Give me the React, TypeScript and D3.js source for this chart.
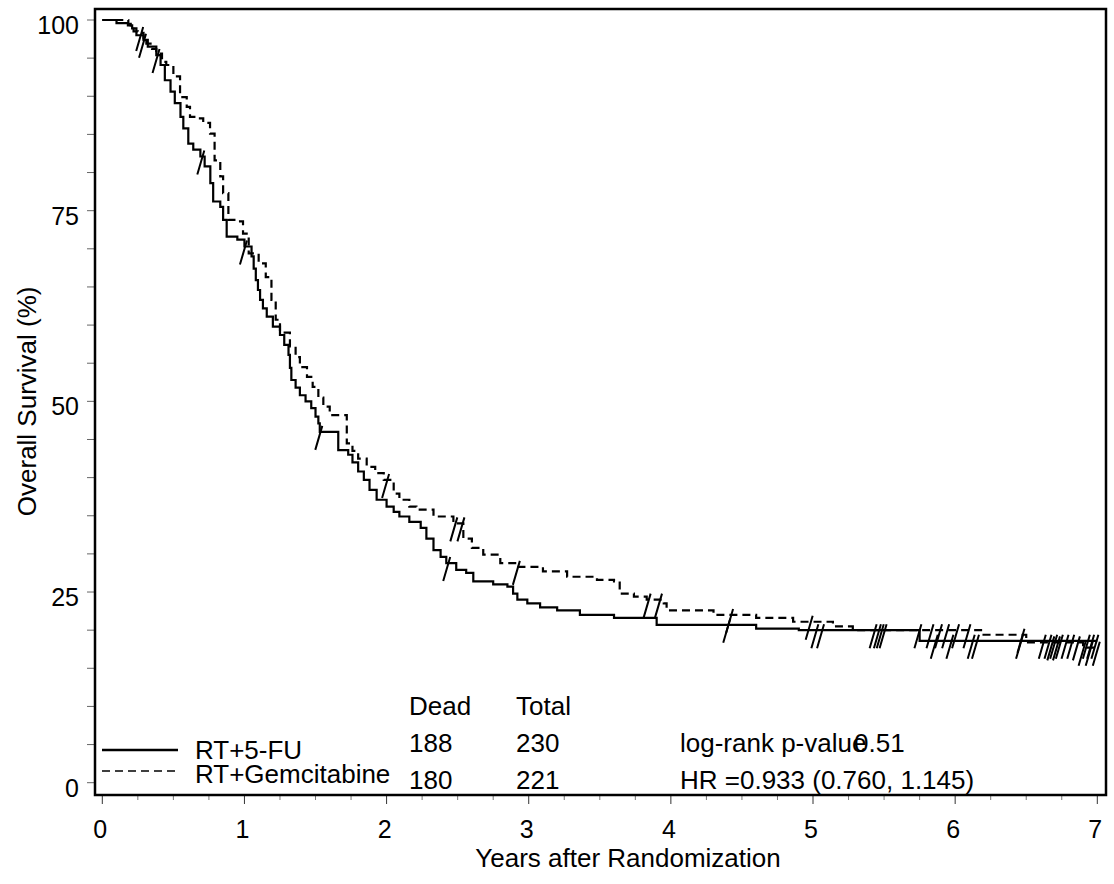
import React from "react";
import * as d3 from "d3";

// Kaplan-Meier steps: [years, survival %]
const fuSteps: [number, number][] = [
  [0, 100], [0.10, 99.6], [0.18, 99.3], [0.21, 98.9], [0.24, 98.0], [0.29, 97.4], [0.32, 96.5],
  [0.38, 95.4], [0.41, 94.1], [0.44, 92.1], [0.48, 90.6], [0.51, 89.1], [0.55, 87.3], [0.57, 85.8],
  [0.605, 83.8], [0.64, 83.0], [0.69, 82.1], [0.72, 80.8], [0.76, 78.6], [0.78, 76.2], [0.83, 75.5],
  [0.85, 73.8], [0.875, 71.6], [0.95, 71.2], [1.0, 70.3], [1.05, 69.0], [1.065, 67.4], [1.08, 65.9],
  [1.095, 64.6], [1.11, 63.3], [1.13, 62.2], [1.157, 61.1], [1.20, 59.8], [1.25, 58.7], [1.28, 57.4],
  [1.31, 56.1], [1.32, 54.4], [1.33, 52.8], [1.36, 51.8], [1.39, 50.8], [1.43, 50.0], [1.47, 49.1],
  [1.50, 48.0], [1.52, 47.1], [1.53, 46.0], [1.66, 43.6], [1.73, 43.0], [1.76, 42.0], [1.80, 40.8],
  [1.84, 39.7], [1.88, 38.4], [1.93, 37.1], [2.0, 36.2], [2.05, 35.5], [2.09, 34.9], [2.16, 34.2],
  [2.24, 33.4], [2.28, 32.0], [2.33, 30.5], [2.38, 29.6], [2.42, 28.8], [2.49, 27.9], [2.56, 27.5],
  [2.61, 26.4], [2.75, 26.0], [2.85, 25.7], [2.89, 24.8], [2.92, 24.0], [2.99, 23.5], [3.08, 23.0],
  [3.20, 22.6], [3.36, 22.0], [3.60, 21.6], [3.90, 20.7], [4.60, 20.2], [4.90, 20.0], [5.75, 18.6],
  [7.0, 18.6],
];

const gemSteps: [number, number][] = [
  [0, 100], [0.183, 99.5], [0.20, 99.3], [0.22, 98.5], [0.25, 98.3], [0.29, 97.6], [0.31, 96.9],
  [0.35, 96.2], [0.38, 95.6], [0.42, 94.5], [0.45, 94.1], [0.50, 92.6], [0.547, 89.9], [0.594, 88.6],
  [0.617, 87.3], [0.687, 87.1], [0.71, 86.5], [0.758, 85.1], [0.79, 81.6], [0.83, 79.5], [0.85, 77.3],
  [0.887, 73.8], [0.957, 73.6], [0.99, 72.0], [1.03, 69.4], [1.10, 68.1], [1.15, 66.3], [1.19, 63.3],
  [1.22, 60.7], [1.25, 59.0], [1.32, 57.2], [1.36, 55.8], [1.39, 54.5], [1.44, 53.2], [1.48, 51.9],
  [1.52, 50.5], [1.555, 49.3], [1.60, 48.2], [1.72, 44.5], [1.76, 43.5], [1.80, 42.5], [1.86, 41.4],
  [1.92, 40.6], [1.98, 39.7], [2.05, 37.9], [2.09, 37.1], [2.16, 36.2], [2.21, 35.8], [2.33, 34.9],
  [2.47, 34.0], [2.54, 32.0], [2.60, 30.8], [2.68, 29.9], [2.80, 28.8], [2.92, 28.3], [3.10, 27.7],
  [3.27, 27.0], [3.48, 26.6], [3.60, 26.4], [3.64, 24.8], [3.74, 24.4], [3.83, 24.0], [3.95, 23.5],
  [3.97, 22.6], [4.30, 22.0], [4.60, 21.6], [4.86, 21.1], [5.14, 20.5], [5.28, 20.0], [6.20, 19.4],
  [6.50, 18.4], [6.90, 17.7], [7.0, 17.7],
];

// censored observations (years)
const fuCensor = [0.29, 0.385, 0.70, 1.0, 1.53, 2.43, 4.40, 5.02, 5.06, 5.46, 5.50, 5.745, 5.86,
  5.97, 6.12, 6.15, 6.46, 6.62, 6.66, 6.70, 6.74, 6.78, 6.82, 6.93, 6.96, 6.99];
const gemCensor = [0.27, 2.0, 2.48, 2.53, 2.92, 3.84, 3.92, 4.42, 4.98, 5.43, 5.48, 5.83, 5.89, 5.94,
  6.01, 6.09, 6.47, 6.68, 6.72, 6.86, 6.90, 6.95, 7.0];

const xTicks = [0, 1, 2, 3, 4, 5, 6, 7];
const yTicks = [0, 25, 50, 75, 100];
const arms = ["RT+5-FU", "RT+Gemcitabine"];
const dead = [188, 180];
const total = [230, 221];
const pValue = "0.51";
const hrText = "HR =0.933 (0.760, 1.145)";

const W = 1114;
const H = 884;
const font = "'Liberation Sans', Arial, Helvetica, sans-serif";

const x = d3.scaleLinear().domain([0, 7]).range([102.3, 1097.3]);
const y = d3.scaleLinear().domain([0, 100]).range([782.7, 20]);

const stepLine = d3
  .line<[number, number]>()
  .x(d => x(d[0]))
  .y(d => y(d[1]))
  .curve(d3.curveStepAfter);

const survAt = (steps: [number, number][], t: number) => {
  let s = steps[0][1];
  for (const [ti, si] of steps) {
    if (ti <= t) s = si;
  }
  return s;
};

// SAS style slanted censor ticks
const censorPath = (steps: [number, number][], times: number[]) =>
  times
    .map(t => {
      const cx = x(t);
      const cy = y(survAt(steps, t));
      return `M${cx + 2.5},${cy - 6}L${cx - 4.5},${cy + 18}`;
    })
    .join("");

const App = () => {
  const frame = { left: 95, top: 9, right: 1106, bottom: 795 };
  const minorX = d3.range(0, 7.001, 0.25);
  const minorY = d3.range(0, 100.001, 5);

  return (
    <svg
      width={W}
      height={H}
      style={{ position: "absolute", left: 0, top: 0, background: "#fff" }}
      fontFamily={font}
    >
      <rect x={0} y={0} width={W} height={H} fill="#fff" />

      {/* y ticks */}
      {minorY.map(v => (
        <line key={"yt" + v} x1={frame.left - 8} x2={frame.left} y1={y(v)} y2={y(v)} stroke="#666" strokeWidth={1} />
      ))}
      {yTicks.map(v => (
        <text key={"yl" + v} x={79} y={y(v) + 14} textAnchor="end" fontSize={25} fill="#000">
          {v}
        </text>
      ))}

      {/* x ticks */}
      {minorX.map(v => {
        const major = Math.abs(v - Math.round(v)) < 1e-6;
        return (
          <line
            key={"xt" + v}
            x1={x(v)}
            x2={x(v)}
            y1={frame.bottom}
            y2={frame.bottom + (major ? 9 : 5)}
            stroke={major ? "#333" : "#777"}
            strokeWidth={1}
          />
        );
      })}
      {xTicks.map(v => (
        <text key={"xl" + v} x={x(v) - 2} y={838} textAnchor="middle" fontSize={25} fill="#000">
          {v}
        </text>
      ))}

      {/* axis titles */}
      <text x={628} y={867} textAnchor="middle" fontSize={26} fill="#000">
        Years after Randomization
      </text>
      <text
        transform={`translate(36, ${(y(0) + y(100)) / 2}) rotate(-90)`}
        textAnchor="middle"
        fontSize={26}
        fill="#000"
      >
        Overall Survival (%)
      </text>

      {/* curves */}
      <path d={stepLine(fuSteps) ?? ""} fill="none" stroke="#000" strokeWidth={2.2} />
      <path d={stepLine(gemSteps) ?? ""} fill="none" stroke="#000" strokeWidth={2.2} strokeDasharray="8,5" />
      <path d={censorPath(fuSteps, fuCensor)} fill="none" stroke="#000" strokeWidth={2} />
      <path d={censorPath(gemSteps, gemCensor)} fill="none" stroke="#000" strokeWidth={2} />

      {/* legend */}
      <line x1={102} x2={178} y1={750} y2={750} stroke="#000" strokeWidth={2.5} />
      <line x1={102} x2={178} y1={771} y2={771} stroke="#000" strokeWidth={1.5} strokeDasharray="8,5" />
      {arms.map((a, i) => (
        <text key={a} x={195} y={759 + i * 24} fontSize={26} fill="#000">
          {a}
        </text>
      ))}

      {/* table */}
      <text x={409} y={715} fontSize={26} fill="#000">Dead</text>
      <text x={516} y={715} fontSize={26} fill="#000">Total</text>
      {dead.map((d, i) => (
        <text key={"d" + i} x={409} y={752 + i * 37} fontSize={26} fill="#000">{d}</text>
      ))}
      {total.map((d, i) => (
        <text key={"t" + i} x={516} y={752 + i * 37} fontSize={26} fill="#000">{d}</text>
      ))}
      <text x={680} y={752} fontSize={26} fill="#000">log-rank p-value</text>
      <text x={854} y={752} fontSize={26} fill="#000">{pValue}</text>
      <text x={680} y={789} fontSize={26} fill="#000">{hrText}</text>

      {/* frame */}
      <rect
        x={frame.left}
        y={frame.top}
        width={frame.right - frame.left}
        height={frame.bottom - frame.top}
        fill="none"
        stroke="#000"
        strokeWidth={2.5}
      />
    </svg>
  );
};

export default App;
